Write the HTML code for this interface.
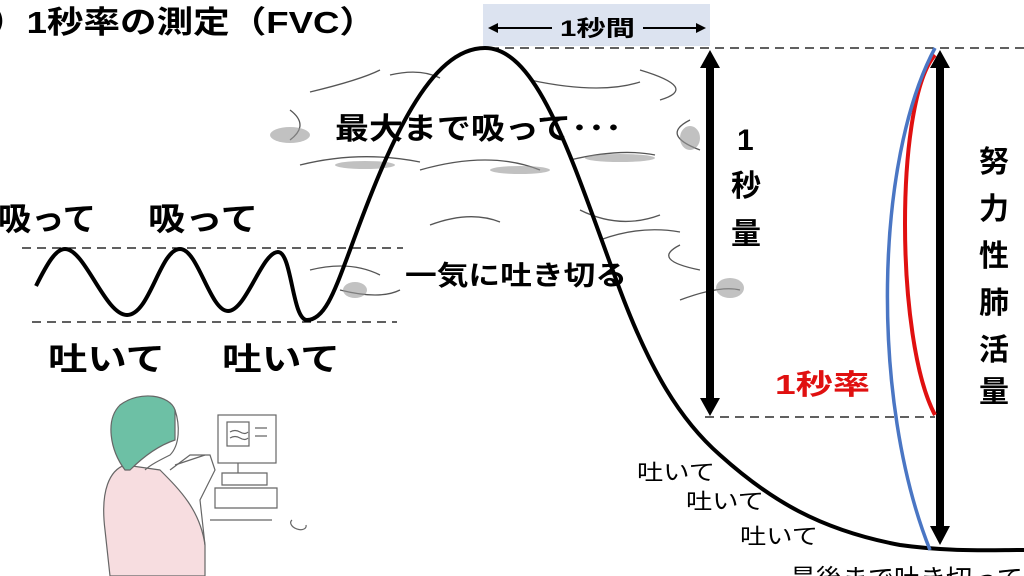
<!DOCTYPE html>
<html><head><meta charset="utf-8"><style>
html,body{margin:0;padding:0;background:#fff;width:1024px;height:576px;overflow:hidden}
svg text{font-family:"Liberation Sans","Noto Sans CJK JP",sans-serif;font-weight:bold}
</style></head><body>
<svg width="1024" height="576" viewBox="0 0 1024 576" xmlns="http://www.w3.org/2000/svg">
<!-- clouds -->
<g fill="none" stroke="#555" stroke-width="1.3">
<path d="M310,92 Q360,80 380,70"/><path d="M390,75 Q420,68 440,78"/><path d="M530,80 Q600,95 640,82"/>
<path d="M640,70 Q700,88 660,100"/><path d="M300,165 Q360,150 420,162"/><path d="M420,170 Q490,150 540,170"/>
<path d="M570,160 Q620,148 655,155"/><path d="M290,110 Q310,125 290,140"/><path d="M690,120 Q660,135 700,150"/>
<path d="M430,225 Q470,210 500,222"/><path d="M580,210 Q620,230 660,215"/><path d="M600,240 Q640,225 680,232"/>
<path d="M680,245 Q650,260 700,270"/><path d="M310,270 Q350,260 380,275"/><path d="M680,300 Q720,285 740,290"/>
<path d="M340,290 Q380,300 400,290"/>
</g>
<g fill="#999" opacity="0.6">
<ellipse cx="290" cy="135" rx="20" ry="8"/><ellipse cx="365" cy="165" rx="30" ry="4"/><ellipse cx="520" cy="170" rx="30" ry="4"/>
<ellipse cx="620" cy="158" rx="35" ry="4"/><ellipse cx="690" cy="138" rx="10" ry="12"/><ellipse cx="355" cy="290" rx="12" ry="8"/>
<ellipse cx="730" cy="288" rx="14" ry="10"/>
</g>
<!-- blue box -->
<rect x="483" y="4" width="227" height="42" fill="#dce3f0"/>
<line x1="490" y1="28" x2="552" y2="28" stroke="#000" stroke-width="2"/>
<path d="M488,28 l10,-5 v10z" fill="#000"/>
<line x1="643" y1="28" x2="700" y2="28" stroke="#000" stroke-width="2"/>
<path d="M706,28 l-10,-5 v10z" fill="#000"/>
<text x="560" y="36" font-size="22" textLength="75" lengthAdjust="spacingAndGlyphs">1秒間</text>
<!-- title -->
<text x="-10" y="33" font-size="31" textLength="386" lengthAdjust="spacingAndGlyphs">）1秒率の測定（FVC）</text>
<!-- dashed lines -->
<g stroke="#000" stroke-width="1.3" stroke-dasharray="9,6" fill="none">
<line x1="490" y1="48" x2="1024" y2="48"/>
<line x1="22" y1="248" x2="403" y2="248"/>
<line x1="32" y1="322" x2="397" y2="322"/>
<line x1="705" y1="417" x2="935" y2="417"/>
</g>
<!-- main curve -->
<path d="M36,286 C48,262 56,249 65,249 C85,249 105,315 127,315 C150,315 160,249 180,249 C198,249 210,311 228,311 C246,311 262,252 278,252 C292,252 292,320 307,320 C325,320 335,290 350,250 C390,140 430,48 485,48 C540,48 575,170 620,290 C650,370 680,420 720,455 C770,500 820,530 900,545 C950,552 990,550 1024,550" fill="none" stroke="#000" stroke-width="4"/>
<!-- arrows -->
<line x1="710" y1="66" x2="710" y2="400" stroke="#000" stroke-width="8"/>
<path d="M700,68 L710,50 L720,68z M700,398 L710,416 L720,398z" fill="#000"/>
<line x1="940" y1="66" x2="940" y2="528" stroke="#000" stroke-width="8"/>
<path d="M930,68 L940,50 L950,68z M930,526 L940,545 L950,526z" fill="#000"/>
<!-- red / blue -->
<path d="M935,55 C895,100 895,340 935,415" fill="none" stroke="#e01010" stroke-width="4"/>
<path d="M935,48 C875,160 870,400 930,550" fill="none" stroke="#4a76c4" stroke-width="3.5"/>
<!-- texts -->
<g font-size="30">
<text x="737" y="150">1</text><text x="731" y="196">秒</text><text x="731" y="244">量</text>
<text x="979" y="172">努</text><text x="979" y="219">力</text><text x="979" y="266">性</text><text x="979" y="313">肺</text><text x="979" y="360">活</text><text x="979" y="402">量</text>
</g>
<text x="775" y="394" font-size="28" fill="#e01010" textLength="95" lengthAdjust="spacingAndGlyphs">1秒率</text>
<text x="335" y="139" font-size="30" textLength="287" lengthAdjust="spacingAndGlyphs">最大まで吸って･･･</text>
<text x="405" y="285" font-size="27" textLength="222" lengthAdjust="spacingAndGlyphs">一気に吐き切る</text>
<text x="-2" y="230" font-size="32" textLength="98" lengthAdjust="spacingAndGlyphs">吸って</text>
<text x="148" y="230" font-size="32" textLength="110" lengthAdjust="spacingAndGlyphs">吸って</text>
<text x="48" y="370" font-size="32" textLength="117" lengthAdjust="spacingAndGlyphs">吐いて</text>
<text x="222" y="370" font-size="32" textLength="118" lengthAdjust="spacingAndGlyphs">吐いて</text>
<g font-size="22">
<text x="637" y="480" style="font-weight:normal" textLength="78" lengthAdjust="spacingAndGlyphs">吐いて</text>
<text x="686" y="509" style="font-weight:normal" textLength="78" lengthAdjust="spacingAndGlyphs">吐いて</text>
<text x="740" y="544" style="font-weight:normal" textLength="78" lengthAdjust="spacingAndGlyphs">吐いて</text>
</g>
<text x="790" y="588" font-size="26" style="font-weight:normal">最後まで吐き切って</text>
<!-- person -->
<g stroke="#666" stroke-width="1.2" fill="none">
<path d="M105,530 C100,490 110,470 125,465 L160,470 C180,490 200,510 205,545 L205,576 L110,576z" fill="#f7dde0"/>
<path d="M125,470 C110,450 105,420 120,405 C140,390 170,395 175,410 L175,440 C160,445 145,455 130,470z" fill="#6dc0a5"/>
<path d="M175,410 C180,425 180,445 170,455 C160,460 150,465 145,470"/>
<path d="M170,470 L190,455 L210,455 L215,470 L200,500 L205,545"/>
<path d="M175,465 L205,455"/>
<rect x="218" y="415" width="58" height="48"/><rect x="227" y="422" width="22" height="24"/>
<path d="M238,463 v10 M222,473 h45 v12 h-45z M215,488 h62 v20 h-62z M210,520 h62 M292,520 a8,5 20 1,0 14,5"/>
<path d="M255,428 h12 M255,436 h12 M230,432 q5,-3 10,0 t8,0 M230,438 q5,-3 10,0 t8,0"/>
</g>
</svg>
</body></html>
